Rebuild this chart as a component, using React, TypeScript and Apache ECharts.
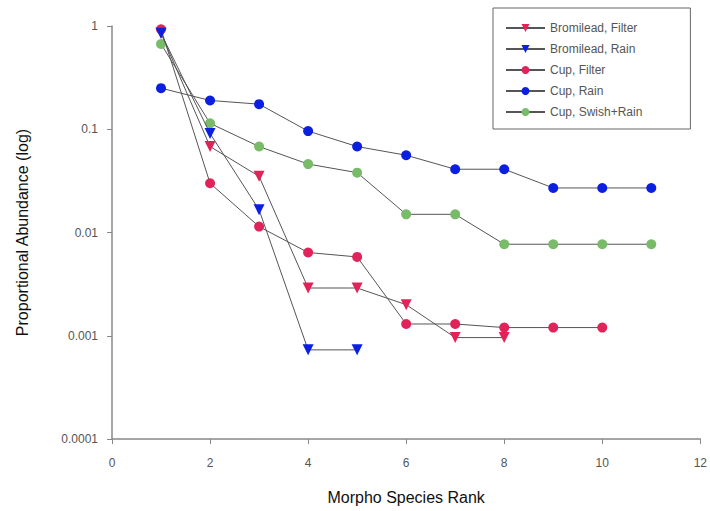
import React, { useEffect, useRef } from "react";
import * as echarts from "echarts";

const seriesNames = [
  "Bromilead, Filter",
  "Bromilead, Rain",
  "Cup, Filter",
  "Cup, Rain",
  "Cup, Swish+Rain",
];

const bromileadFilter = [0.85, 0.068, 0.035, 0.0029, 0.0029, 0.002, 0.00096, 0.00096];
const bromileadRain = [0.85, 0.091, 0.0166, 0.00073, 0.00073];
const cupFilter = [0.93, 0.03, 0.0114, 0.0064, 0.0058, 0.0013, 0.0013, 0.0012, 0.0012, 0.0012];
const cupRain = [0.25, 0.19, 0.175, 0.096, 0.068, 0.056, 0.041, 0.041, 0.027, 0.027, 0.027];
const cupSwishRain = [0.67, 0.114, 0.068, 0.046, 0.038, 0.015, 0.015, 0.0077, 0.0077, 0.0077, 0.0077];

const yTickLabels = ["0.0001", "0.001", "0.01", "0.1", "1"];
const xTicks = [0, 2, 4, 6, 8, 10, 12];

const RED = "#e0245a";
const BLUE = "#0a1fe0";
const GREEN = "#78bb68";

export default function App() {
  const ref = useRef<HTMLDivElement>(null);
  useEffect(() => {
    if (!ref.current) return;
    const chart = echarts.init(ref.current, undefined, { renderer: "svg" });
    const toPairs = (arr: number[]) => arr.map((v, i) => [i + 1, v]);
    const mk = (name: string, data: number[], color: string, tri: boolean) => ({
      name,
      type: "line",
      data: toPairs(data),
      symbol: tri ? "triangle" : "circle",
      symbolRotate: tri ? 180 : 0,
      symbolSize: tri ? 11 : 10,
      lineStyle: { color: "#555", width: 1 },
      itemStyle: { color, borderWidth: 0 },
      z: tri ? 3 : 2,
    });
    chart.setOption({
      animation: false,
      backgroundColor: "#fff",
      textStyle: { fontFamily: "Liberation Sans, Arial, sans-serif" },
      grid: { left: 112, right: 5, top: 26, bottom: 72 },
      legend: {
        orient: "vertical",
        left: 493,
        top: 8,
        padding: [14, 48, 11, 12],
        borderColor: "#666",
        borderWidth: 1,
        itemWidth: 39,
        itemHeight: 10,
        itemGap: 9,
        textStyle: { fontSize: 12, color: "#555", fontFamily: "Liberation Sans, Arial, sans-serif" },
        data: seriesNames,
      },
      xAxis: {
        type: "value",
        min: 0,
        max: 12,
        interval: 2,
        name: "Morpho Species Rank",
        nameLocation: "middle",
        nameGap: 50,
        nameTextStyle: { fontSize: 16, color: "#111" },
        axisLine: { lineStyle: { color: "#888", width: 1.5 } },
        axisTick: { show: true, length: 5, lineStyle: { color: "#888" } },
        axisLabel: {
          fontSize: 12,
          color: "#555",
          margin: 18,
          formatter: (v: number) => (xTicks.includes(v) ? String(v) : ""),
        },
        splitLine: { show: false },
      },
      yAxis: {
        type: "log",
        logBase: 10,
        min: 0.0001,
        max: 1,
        name: "Proportional Abundance (log)",
        nameLocation: "middle",
        nameGap: 82,
        nameTextStyle: { fontSize: 16, color: "#111" },
        axisLine: { show: true, lineStyle: { color: "#888", width: 1.5 } },
        axisTick: { show: true, length: 5, lineStyle: { color: "#888" } },
        axisLabel: {
          fontSize: 12,
          color: "#555",
          margin: 14,
          formatter: (v: number) => {
            const e = Math.round(Math.log10(v));
            return yTickLabels[e + 4] ?? "";
          },
        },
        splitLine: { show: false },
      },
      series: [
        mk(seriesNames[0], bromileadFilter, RED, true),
        mk(seriesNames[1], bromileadRain, BLUE, true),
        mk(seriesNames[2], cupFilter, RED, false),
        mk(seriesNames[3], cupRain, BLUE, false),
        mk(seriesNames[4], cupSwishRain, GREEN, false),
      ],
    });
    return () => chart.dispose();
  }, []);
  return <div ref={ref} style={{ width: 710, height: 511, position: "absolute", left: 0, top: 0 }} />;
}
